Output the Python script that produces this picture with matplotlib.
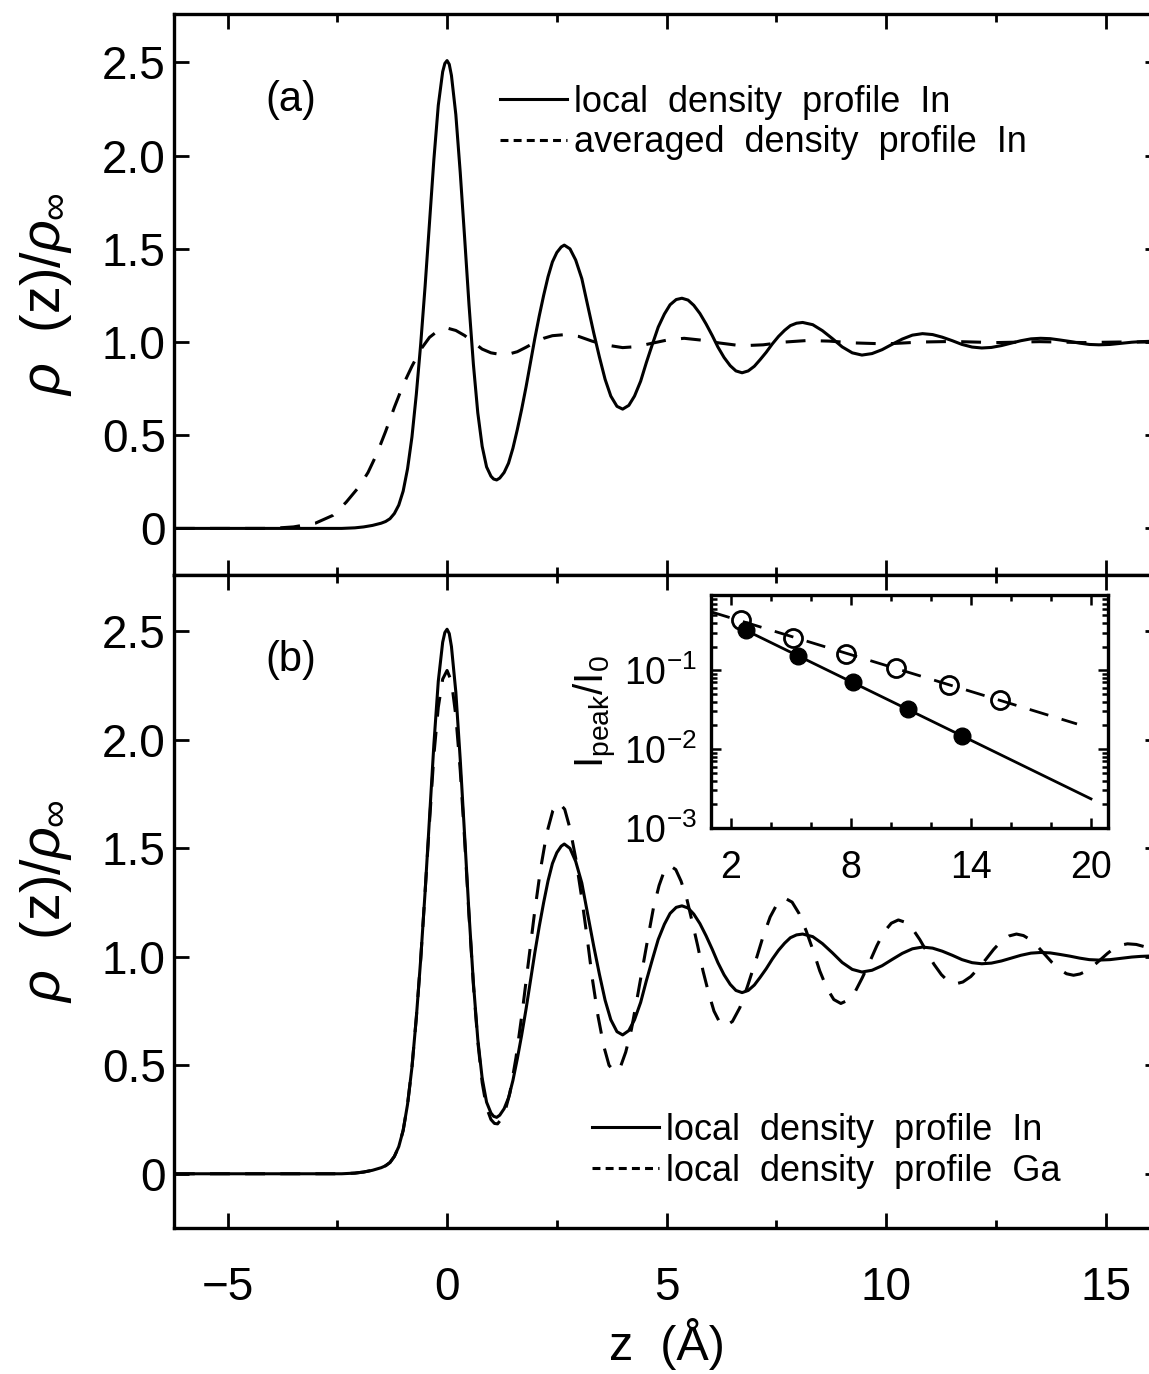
import numpy as np
import matplotlib
matplotlib.use("Agg")
import matplotlib.pyplot as plt
from matplotlib.lines import Line2D
from matplotlib.ticker import MultipleLocator, FixedLocator, LogLocator, NullFormatter, FuncFormatter

plt.rcParams["font.family"] = ["Liberation Sans", "DejaVu Sans"]
plt.rcParams["mathtext.fontset"] = "custom"
plt.rcParams["mathtext.rm"] = "Liberation Sans"
plt.rcParams["mathtext.it"] = "Liberation Sans:italic"
plt.rcParams["axes.unicode_minus"] = True

# --- local density profile In (panels a and b, solid)
z_in = [-6.2, -3.0, -2.4, -2.1, -1.9, -1.7, -1.5, -1.4, -1.3, -1.2, -1.1, -1.0,
        -0.9, -0.8, -0.7, -0.6, -0.5, -0.4, -0.3, -0.2, -0.1, -0.05, 0.0,
        0.05, 0.1, 0.2, 0.3, 0.4, 0.5, 0.6, 0.7, 0.8, 0.9, 1.0, 1.06, 1.13, 1.2,
        1.3, 1.4, 1.5, 1.6, 1.7, 1.8, 1.9, 2.0, 2.1, 2.2, 2.3, 2.4, 2.5, 2.6, 2.67,
        2.80, 2.93, 3.07, 3.2, 3.34, 3.47, 3.6, 3.73, 3.87, 4.0,
        4.14, 4.27, 4.41, 4.54, 4.68, 4.81, 4.95, 5.08, 5.22, 5.35,
        5.49, 5.62, 5.76, 5.9, 6.04, 6.17, 6.31, 6.45, 6.58, 6.72,
        6.86, 7.0, 7.13, 7.27, 7.41, 7.55, 7.69, 7.82, 7.96, 8.1,
        8.33, 8.55, 8.78, 9.0, 9.23, 9.45,
        9.68, 9.91, 10.14, 10.37, 10.6, 10.83,
        11.06, 11.28, 11.51, 11.73, 11.96, 12.18,
        12.4, 12.63, 12.85, 13.07, 13.3, 13.52,
        13.74, 13.96, 14.19, 14.41, 14.63, 14.85,
        15.1, 15.35, 15.6, 15.8, 16.3]
rho_in = [0.0, 0.0, 0.0, 0.003, 0.008, 0.016, 0.028, 0.037, 0.052, 0.08, 0.125, 0.20,
          0.32, 0.49, 0.72, 0.99, 1.30, 1.64, 1.98, 2.27, 2.45, 2.495, 2.51,
          2.49, 2.43, 2.22, 1.91, 1.56, 1.20, 0.88, 0.62, 0.44, 0.33, 0.28, 0.265, 0.26, 0.27,
          0.30, 0.35, 0.43, 0.53, 0.64, 0.76, 0.89, 1.02, 1.14, 1.25, 1.35, 1.43, 1.48, 1.51, 1.52,
          1.50, 1.44, 1.34, 1.20, 1.05, 0.92, 0.80, 0.71, 0.655, 0.64,
          0.66, 0.71, 0.79, 0.89, 0.99, 1.08, 1.15, 1.20, 1.228, 1.235,
          1.225, 1.197, 1.153, 1.097, 1.035, 0.973, 0.917, 0.873, 0.845, 0.835,
          0.845, 0.87, 0.905, 0.945, 0.99, 1.03, 1.063, 1.088, 1.101, 1.105,
          1.093, 1.061, 1.018, 0.974, 0.942, 0.93,
          0.938, 0.959, 0.988, 1.016, 1.037, 1.045,
          1.04, 1.026, 1.007, 0.987, 0.973, 0.968,
          0.971, 0.981, 0.994, 1.007, 1.017, 1.02,
          1.018, 1.011, 1.003, 0.994, 0.987, 0.985,
          0.987, 0.993, 0.999, 1.002, 1.006]

# --- averaged density profile In (panel a, dashed)
z_avg = [-6.2, -4.0, -3.5, -3.0, -2.6, -2.3, -2.0, -1.8, -1.6, -1.4, -1.2, -1.0,
         -0.8, -0.6, -0.4, -0.2, 0.0, 0.2, 0.4, 0.6, 0.8, 1.0, 1.2, 1.4, 1.6, 1.8,
         2.0, 2.2, 2.4, 2.7, 3.0, 3.3, 3.6, 4.0, 4.3, 4.6, 5.0, 5.4, 5.8, 6.2, 6.7,
         7.2, 7.7, 8.2, 8.7, 9.3, 10.0, 10.8, 11.5, 12.5, 13.5, 14.5, 15.3, 16.3]
rho_avg = [0.0, 0.0, 0.008, 0.028, 0.07, 0.14, 0.225, 0.30, 0.40, 0.52, 0.65, 0.77,
           0.87, 0.96, 1.025, 1.062, 1.075, 1.062, 1.035, 0.998, 0.962, 0.942, 0.934, 0.935, 0.948, 0.972,
           0.998, 1.02, 1.034, 1.04, 1.03, 1.005, 0.985, 0.97, 0.975, 0.99, 1.01, 1.02, 1.01, 0.995, 0.98,
           0.985, 1.0, 1.008, 1.005, 0.995, 0.99, 1.0, 1.003, 0.997, 1.002, 0.997, 1.0, 1.0]

# --- local density profile Ga (panel b, dashed)
z_ga = [-6.2, -3.0, -2.4, -2.1, -1.9, -1.7, -1.5, -1.4, -1.3, -1.2, -1.1, -1.0,
        -0.9, -0.8, -0.7, -0.6, -0.5, -0.4, -0.3, -0.2, -0.1, 0.0,
        0.1, 0.2, 0.3, 0.4, 0.5, 0.6, 0.7, 0.8, 0.9, 1.0, 1.08, 1.15,
        1.29, 1.43, 1.57, 1.71, 1.85, 1.99, 2.13, 2.27, 2.41, 2.55,
        2.68, 2.80, 2.93, 3.06, 3.19, 3.31, 3.44, 3.57, 3.69, 3.82,
        3.95, 4.07, 4.2, 4.32, 4.45, 4.58, 4.7, 4.83, 4.95, 5.08,
        5.21, 5.33, 5.46, 5.58, 5.71, 5.83, 5.96, 6.08, 6.21, 6.33,
        6.50, 6.67, 6.84, 7.02, 7.19, 7.36, 7.53, 7.7,
        7.86, 8.02, 8.18, 8.34, 8.49, 8.65, 8.81, 8.97,
        9.13, 9.3, 9.46, 9.63, 9.79, 9.95, 10.12, 10.28,
        10.44, 10.61, 10.77, 10.93, 11.09, 11.26, 11.42, 11.58,
        11.75, 11.93, 12.1, 12.28, 12.45, 12.62, 12.8, 12.97,
        13.13, 13.3, 13.46, 13.62, 13.78, 13.95, 14.11, 14.27,
        14.42, 14.58, 14.73, 14.89, 15.04, 15.19, 15.35, 15.5,
        15.7, 15.9, 16.3]
rho_ga = [0.0, 0.0, 0.0, 0.003, 0.008, 0.016, 0.028, 0.037, 0.052, 0.08, 0.125, 0.20,
          0.32, 0.49, 0.72, 0.99, 1.30, 1.62, 1.93, 2.15, 2.28, 2.32,
          2.27, 2.11, 1.86, 1.54, 1.19, 0.87, 0.61, 0.42, 0.305, 0.25, 0.232, 0.23,
          0.266, 0.371, 0.535, 0.741, 0.97, 1.199, 1.405, 1.569, 1.674, 1.71,
          1.68, 1.592, 1.455, 1.282, 1.09, 0.898, 0.725, 0.588, 0.50, 0.47,
          0.493, 0.561, 0.666, 0.798, 0.945, 1.092, 1.224, 1.329, 1.397, 1.42,
          1.402, 1.349, 1.268, 1.165, 1.05, 0.935, 0.832, 0.75, 0.698, 0.68,
          0.702, 0.766, 0.862, 0.975, 1.088, 1.184, 1.248, 1.27,
          1.252, 1.199, 1.12, 1.028, 0.935, 0.856, 0.803, 0.785,
          0.80, 0.841, 0.904, 0.978, 1.051, 1.114, 1.155, 1.17,
          1.159, 1.127, 1.079, 1.023, 0.966, 0.918, 0.886, 0.875,
          0.884, 0.909, 0.946, 0.99, 1.034, 1.071, 1.096, 1.105,
          1.098, 1.077, 1.046, 1.01, 0.974, 0.943, 0.922, 0.915,
          0.921, 0.936, 0.96, 0.988, 1.015, 1.039, 1.054, 1.06,
          1.057, 1.046, 1.02]

# --- inset: peak intensities I_peak/I_0
peak_in_z = [2.73, 5.36, 8.12, 10.86, 13.54]
peak_in_val = [0.32, 0.152, 0.070, 0.032, 0.0146]
peak_ga_z = [2.5, 5.1, 7.73, 10.25, 12.9, 15.45]
peak_ga_val = [0.43, 0.26, 0.163, 0.106, 0.065, 0.042]
fit_in_range = [2.7, 20.0]
fit_ga_range = [1.0, 19.3]

W, H = 1149, 1374
LW = 2.2
TICKFS = 33
fig = plt.figure(figsize=(W / 100, H / 100), dpi=100)

def px_axes(left, top, right, bottom):
    return fig.add_axes([left / W, 1 - bottom / H, (right - left) / W, (bottom - top) / H])

ax_a = px_axes(174, 14, 1160, 575)
ax_b = px_axes(174, 575, 1160, 1228)

ax_a.plot(z_in, rho_in, color="k", lw=LW)
ax_a.plot(z_avg, rho_avg, color="k", lw=LW, dashes=(6.5, 5.0))
ax_b.plot(z_in, rho_in, color="k", lw=LW)
ax_b.plot(z_ga, rho_ga, color="k", lw=LW, dashes=(6.5, 5.0))

yfmt = FuncFormatter(lambda v, p: "0" if abs(v) < 1e-9 else f"{v:.1f}")
for ax in (ax_a, ax_b):
    ax.set_xlim(-6.22, 16.24)
    ax.set_ylim(-0.25, 2.76)
    ax.xaxis.set_major_locator(MultipleLocator(5))
    ax.xaxis.set_minor_locator(MultipleLocator(2.5))
    ax.yaxis.set_major_locator(MultipleLocator(0.5))
    ax.yaxis.set_major_formatter(yfmt)
    ax.tick_params(which="both", direction="in", top=True, right=True, width=2.0)
    ax.tick_params(which="major", length=11, labelsize=TICKFS)
    ax.tick_params(which="minor", length=6)
    ax.tick_params(axis="y", pad=6)
    for s in ax.spines.values():
        s.set_linewidth(2.4)
    ax.set_ylabel(r"$\it{\rho}$  (z)/$\it{\rho}_\infty$", fontsize=40, labelpad=20)

ax_a.tick_params(axis="x", labelbottom=False)
ax_b.tick_params(axis="x", pad=27)
ax_b.set_xlabel("z  (Å)", fontsize=35, labelpad=6)

ax_a.text(0.118, 0.847, "(a)", transform=ax_a.transAxes, fontsize=30,
          ha="center", va="center")
ax_b.text(0.118, 0.87, "(b)", transform=ax_b.transAxes, fontsize=30,
          ha="center", va="center")

leg_solid = Line2D([], [], color="k", lw=LW)
leg_dash = Line2D([], [], color="k", lw=LW, dashes=(2.6, 1.7))
leg_kw = dict(loc="upper left", frameon=False, fontsize=26, handlelength=1.85,
              handletextpad=0.2, labelspacing=0.16, borderpad=0, borderaxespad=0)
ax_a.legend([leg_solid, leg_dash],
            ["local  density  profile  In", "averaged  density  profile  In"],
            bbox_to_anchor=(0.331, 0.874), **leg_kw)
ax_b.legend([leg_solid, leg_dash],
            ["local  density  profile  In", "local  density  profile  Ga"],
            bbox_to_anchor=(0.424, 0.176), **leg_kw)

# --- inset
ax_i = px_axes(711, 595, 1108, 828)
fz_in = np.array(fit_in_range)
fz_ga = np.array(fit_ga_range)
c_in = np.polyfit(peak_in_z, np.log10(peak_in_val), 1)
c_ga = np.polyfit(peak_ga_z, np.log10(peak_ga_val), 1)
ax_i.plot(fz_in, 10 ** np.polyval(c_in, fz_in), color="k", lw=2.0)
ax_i.plot(fz_ga, 10 ** np.polyval(c_ga, fz_ga), color="k", lw=2.0, dashes=(7, 5))
ax_i.plot(peak_in_z, peak_in_val, "o", color="k", ms=12)
ax_i.plot(peak_ga_z, peak_ga_val, "o", mfc="none", mec="k", mew=2.0, ms=13)
ax_i.set_yscale("log")
ax_i.set_xlim(1, 20.85)
ax_i.set_ylim(1e-3, 0.9)
ax_i.xaxis.set_major_locator(FixedLocator([2, 8, 14, 20]))
ax_i.xaxis.set_minor_locator(MultipleLocator(2))
ax_i.yaxis.set_major_locator(LogLocator(base=10, numticks=10))
ax_i.yaxis.set_minor_locator(LogLocator(base=10, subs=np.arange(2, 10), numticks=10))
ax_i.yaxis.set_minor_formatter(NullFormatter())
ax_i.tick_params(which="both", direction="in", top=True, right=True, width=1.8)
ax_i.tick_params(which="major", length=7, labelsize=27)
ax_i.tick_params(which="minor", length=4)
ax_i.tick_params(axis="x", pad=16)
ax_i.tick_params(axis="y", pad=10)
for s in ax_i.spines.values():
    s.set_linewidth(2.4)
ax_i.set_ylabel(r"I$_{\rm peak}$/I$_{\rm 0}$", fontsize=29, labelpad=4)

fig.savefig("out.png", dpi=100)
